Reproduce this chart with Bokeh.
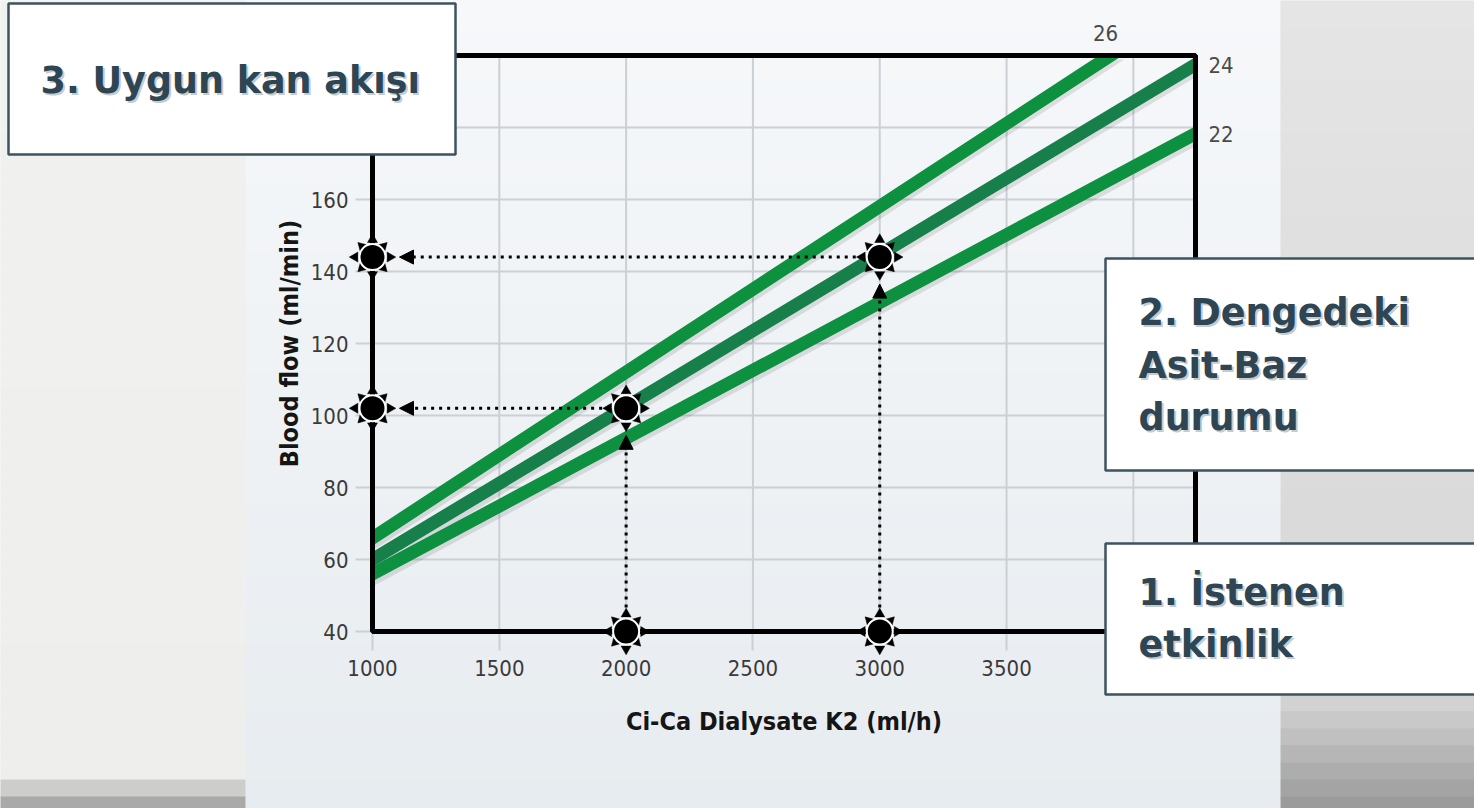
import math
from bokeh.plotting import figure
from bokeh.models import Range1d, FixedTicker, Label, BoxAnnotation, Arrow, NormalHead
from bokeh.embed import file_html
from bokeh.resources import INLINE

# ---------------- data ----------------
x_grid_ticks = [1000, 1500, 2000, 2500, 3000, 3500, 4000]
x_label_ticks = [1000, 1500, 2000, 2500, 3000, 3500, 4000]
y_grid_ticks = [40, 60, 80, 100, 120, 140, 160, 180, 200]
y_label_ticks = [40, 60, 80, 100, 120, 140, 160, 180, 200]
x_title = "Ci-Ca Dialysate K2 (ml/h)"
y_title = "Blood flow (ml/min)"

bicarb_names = ["26", "24", "22"]
bicarb_x = [[1000, 3910], [1000, 4245], [1000, 4245]]
bicarb_y = [[66, 200], [60, 197.5], [56, 178.3]]
bicarb_colors = ["#0d913f", "#17804a", "#0d903f"]

point_x = [1000, 1000, 2000, 3000, 2000, 3000]
point_y = [144, 102, 102, 144, 40, 40]

h_guide_y = [144, 102]
h_guide_from = [3000, 2000]
h_guide_to = [1000, 1000]
v_guide_x = [3000, 2000]
v_guide_from = [40, 40]
v_guide_to = [144, 102]

step_box_3 = ["3. Uygun kan akışı"]
step_box_2 = ["2. Dengedeki", "Asit-Baz", "durumu"]
step_box_1 = ["1. İstenen", "etkinlik"]

# ---------------- layout (pixels) ----------------
W, H = 1474, 808
BOX_L, BOX_R, BOX_T, BOX_B = 372, 1195, 55, 631
X_LO, X_HI, Y_LO, Y_HI = 1000, 4245, 40, 200
SX = (BOX_R - BOX_L) / (X_HI - X_LO)
SY = (BOX_B - BOX_T) / (Y_HI - Y_LO)


def X(px):
    return X_LO + (px - BOX_L) / SX


def Y(py):
    return Y_LO + (BOX_B - py) / SY


def mix(c1, c2, t):
    t = max(0.0, min(1.0, t))
    r = [round(a + (b - a) * t) for a, b in zip(c1, c2)]
    return "#%02x%02x%02x" % tuple(r)


TICK_FONT = "Liberation Sans Narrow, DejaVu Sans Condensed, Roboto"
GRID_COLOR = "#cbd0d4"

p = figure(width=W, height=H,
           x_range=Range1d(X(0), X(W)), y_range=Range1d(Y(H), Y(0)),
           output_backend="svg", toolbar_location=None,
           min_border=0, min_border_left=0, min_border_right=0,
           min_border_top=0, min_border_bottom=0)
p.outline_line_color = None
p.background_fill_color = "#eef2f5"
p.border_fill_color = "#eef2f5"
p.grid.visible = False

# ---------------- background ----------------
NB = 48
for i in range(NB):
    y0 = i * (H + 10) / NB - 5
    y1 = (i + 1) * (H + 10) / NB - 5
    t = i / (NB - 1)
    p.add_layout(BoxAnnotation(left=X(245), right=X(1280), top=Y(y0), bottom=Y(y1 + 1),
                               fill_color=mix((246, 248, 250), (231, 236, 240), t), fill_alpha=1,
                               line_color=None, level="image"))
    if y0 < 765:
        lc = mix((241, 241, 239), (238, 238, 236), y0 / 765)
    else:
        lc = mix((234, 234, 232), (150, 150, 150), (y0 - 765) / 40)
    p.add_layout(BoxAnnotation(left=X(-20), right=X(245), top=Y(y0), bottom=Y(y1 + 1),
                               fill_color=lc, fill_alpha=1, line_color=None, level="image"))
    if y0 < 690:
        rc = mix((229, 229, 229), (214, 214, 214), y0 / 690)
    else:
        rc = mix((212, 212, 212), (150, 150, 150), (y0 - 690) / 115)
    p.add_layout(BoxAnnotation(left=X(1280), right=X(1500), top=Y(y0), bottom=Y(y1 + 1),
                               fill_color=rc, fill_alpha=1, line_color=None, level="image"))

# ---------------- grid lines inside the chart box ----------------
p.segment(x0=x_grid_ticks, x1=x_grid_ticks, y0=[Y_LO] * len(x_grid_ticks), y1=[Y_HI] * len(x_grid_ticks),
          line_color=GRID_COLOR, line_width=2)
p.segment(x0=[X_LO] * len(y_grid_ticks), x1=[X_HI] * len(y_grid_ticks), y0=y_grid_ticks, y1=y_grid_ticks,
          line_color=GRID_COLOR, line_width=2)

# ---------------- axes (fixed on the chart box edges) ----------------
p.xaxis.ticker = FixedTicker(ticks=x_label_ticks)
p.yaxis.ticker = FixedTicker(ticks=y_label_ticks)
p.xaxis.fixed_location = Y_LO
p.yaxis.fixed_location = X_LO
p.xaxis.bounds = (X_LO, X_HI)
p.yaxis.bounds = (Y_LO, Y_HI)
for ax in (p.xaxis, p.yaxis):
    ax.level = "underlay"
    ax.axis_line_color = None
    ax.major_tick_line_color = GRID_COLOR
    ax.major_tick_line_width = 2
    ax.minor_tick_line_color = None
    ax.major_tick_in = 0
    ax.major_label_text_font = TICK_FONT
    ax.major_label_text_font_size = "22px"
    ax.major_label_text_color = "#3a3a3a"
    ax.axis_label_text_font = TICK_FONT
    ax.axis_label_text_font_style = "bold"
    ax.axis_label_text_font_size = "25px"
    ax.axis_label_text_color = "#151515"
p.xaxis.major_tick_out = 19
p.yaxis.major_tick_out = 17
p.xaxis.axis_label = x_title
p.yaxis.axis_label = y_title
p.xaxis.major_label_standoff = 9
p.yaxis.major_label_standoff = 7
p.xaxis.axis_label_standoff = 28
p.yaxis.axis_label_standoff = 4


# ---------------- bicarbonate lines (bands clipped to the chart box) ----------------
def band_polygon(xa, ya, xb, yb, hw_px):
    m = (yb - ya) / (xb - xa)
    h = hw_px * math.sqrt(1 + (m * SY / SX) ** 2) / SY

    def yc(x):
        return ya + m * (x - xa)

    xs, ys = [X_LO], [yc(X_LO) - h]
    if yc(X_HI) - h <= Y_HI:
        xs.append(X_HI); ys.append(yc(X_HI) - h)
    else:
        xs.append(xa + (Y_HI + h - ya) / m); ys.append(Y_HI)
    if yc(X_HI) + h <= Y_HI:
        xs.append(X_HI); ys.append(yc(X_HI) + h)
    else:
        if yc(X_HI) - h < Y_HI:
            xs.append(X_HI); ys.append(Y_HI)
        xs.append(xa + (Y_HI - h - ya) / m); ys.append(Y_HI)
    xs.append(X_LO); ys.append(yc(X_LO) + h)
    return xs, ys


for xs, ys in zip(bicarb_x, bicarb_y):
    bx, by = band_polygon(xs[0], ys[0], xs[1], ys[1], 7.5)
    p.patch(bx, [v - 4 / SY for v in by], fill_color="#000000", fill_alpha=0.10, line_color=None)
for xs, ys, col in zip(bicarb_x, bicarb_y, bicarb_colors):
    bx, by = band_polygon(xs[0], ys[0], xs[1], ys[1], 6.5)
    p.patch(bx, by, fill_color=col, line_color=None)

# chart frame
p.quad(left=[X_LO], right=[X_HI], bottom=[Y_LO], top=[Y_HI],
       fill_color=None, line_color="black", line_width=5)

# line labels
p.add_layout(Label(x=bicarb_x[0][1], y=bicarb_y[0][1], text=bicarb_names[0], x_offset=-5, y_offset=23,
                   text_align="center", text_baseline="middle", text_font=TICK_FONT,
                   text_font_size="22px", text_color="#4a4a4a"))
for i in (1, 2):
    p.add_layout(Label(x=bicarb_x[i][1], y=bicarb_y[i][1], text=bicarb_names[i], x_offset=13, y_offset=0,
                       text_align="left", text_baseline="middle", text_font=TICK_FONT,
                       text_font_size="22px", text_color="#4a4a4a"))

# ---------------- dotted guides ----------------
START_GAP, TIP_GAP = 24, 27
for gy, gf, gt in zip(h_guide_y, h_guide_from, h_guide_to):
    p.add_layout(Arrow(x_start=gf - START_GAP / SX, y_start=gy, x_end=gt + TIP_GAP / SX, y_end=gy,
                       end=NormalHead(size=14, fill_color="black", line_color="black", line_width=1),
                       line_color="black", line_width=3, line_dash="3 5"))
for gx, gf, gt in zip(v_guide_x, v_guide_from, v_guide_to):
    p.add_layout(Arrow(x_start=gx, y_start=gf + START_GAP / SY, x_end=gx, y_end=gt - TIP_GAP / SY,
                       end=NormalHead(size=14, fill_color="black", line_color="black", line_width=1),
                       line_color="black", line_width=3, line_dash="3 5"))

# ---------------- sun markers ----------------
ray_x, ray_y, ray_angle, ray_size = [], [], [], []
for mx, my in zip(point_x, point_y):
    for k in range(8):
        a = k * math.pi / 4
        cardinal = (k % 2 == 0)
        d = 17.5 if cardinal else 15.5
        ray_x.append(mx + d * math.cos(a) / SX)
        ray_y.append(my + d * math.sin(a) / SY)
        ray_angle.append(a - math.pi / 2)
        ray_size.append(10 if cardinal else 9)
p.scatter(ray_x, ray_y, marker="triangle", size=ray_size, angle=ray_angle,
          fill_color="black", line_color="black", line_width=0.5)
p.scatter(point_x, point_y, marker="circle", size=26, fill_color="black",
          line_color="white", line_width=2)

# ---------------- step boxes ----------------
BOX_FONT = dict(text_font="DejaVu Sans", text_font_style="bold", text_font_size="36.5px",
                text_align="left", text_baseline="alphabetic")


def step_box(l, r, t, b, lines, x_text, baselines):
    p.add_layout(BoxAnnotation(left=X(l), right=X(r), top=Y(t), bottom=Y(b),
                               fill_color="white", fill_alpha=1,
                               line_color="#3c5360", line_alpha=1, line_width=2.5))
    for txt, base in zip(lines, baselines):
        p.add_layout(Label(x=X(x_text), y=Y(base), text=txt, x_offset=2, y_offset=-2,
                           text_color="#7f8a90", text_alpha=0.45, **BOX_FONT))
        p.add_layout(Label(x=X(x_text), y=Y(base), text=txt, text_color="#2e4653", **BOX_FONT))


step_box(8, 455, 3, 154, step_box_3, 40, [80])
step_box(1105, 1490, 258, 470, step_box_2, 1138, [312, 365, 417])
step_box(1105, 1490, 543, 694, step_box_1, 1138, [592, 644])

open("out.html", "w").write(file_html(p, INLINE, title="Blood flow chart"))
